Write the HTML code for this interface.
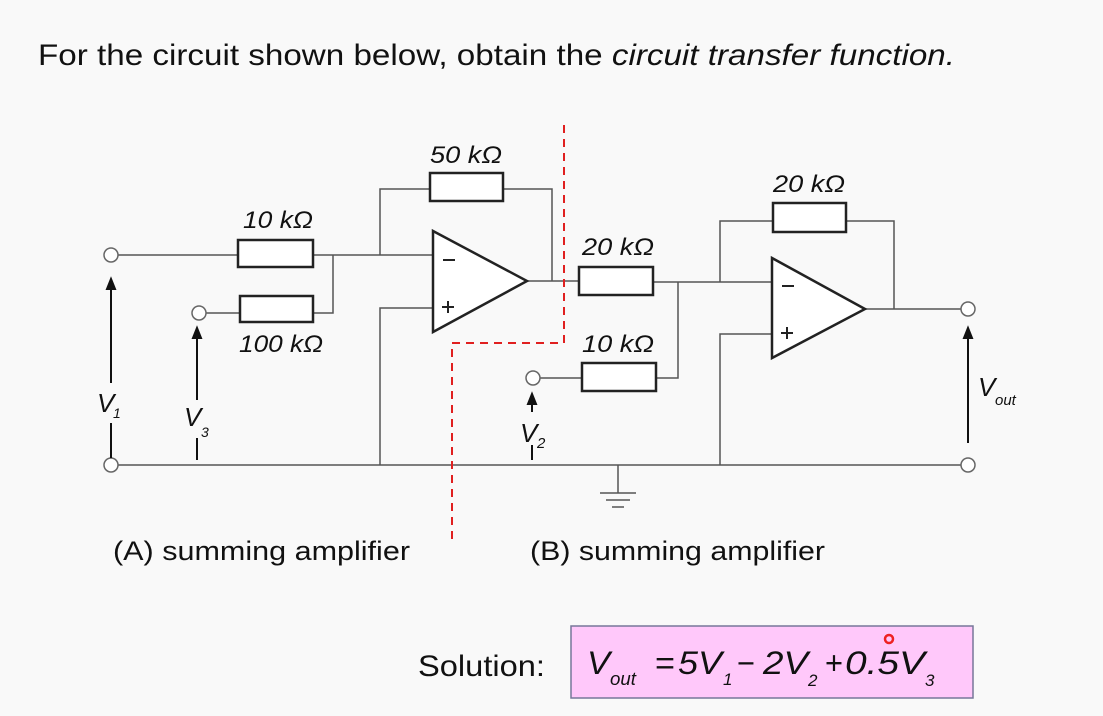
<!DOCTYPE html>
<html><head><meta charset="utf-8"><style>
html,body{margin:0;padding:0;background:#f9f9f9;}
svg{display:block;}
text{font-family:"Liberation Sans",Arial,sans-serif;fill:#111;}
</style></head><body>
<svg width="1103" height="716" viewBox="0 0 1103 716" xmlns="http://www.w3.org/2000/svg">
<rect width="1103" height="716" fill="#f9f9f9"/>
<text x="38" y="65" font-size="30" textLength="917" lengthAdjust="spacingAndGlyphs">For the circuit shown below, obtain the <tspan font-style="italic">circuit transfer function.</tspan></text>

<g stroke="#555" stroke-width="1.5" fill="none">
<line x1="118" y1="255" x2="238" y2="255"/>
<line x1="313" y1="255" x2="433" y2="255"/>
<polyline points="206,313 240,313"/>
<polyline points="313,313 333,313 333,255"/>
<polyline points="380,255 380,189 430,189"/>
<polyline points="503,189 552,189 552,281"/>
<line x1="527" y1="281" x2="579" y2="281"/>
<polyline points="433,308 380,308 380,465"/>
<line x1="118" y1="465" x2="961" y2="465"/>
<line x1="653" y1="282" x2="772" y2="282"/>
<polyline points="540,378 582,378"/>
<polyline points="656,378 678,378 678,282"/>
<polyline points="720,282 720,221 773,221"/>
<polyline points="846,221 894,221 894,309"/>
<line x1="865" y1="309" x2="961" y2="309"/>
<polyline points="772,334 720,334 720,465"/>
<line x1="618" y1="465" x2="618" y2="493"/>
<line x1="600" y1="493" x2="636" y2="493"/>
<line x1="606" y1="500" x2="630" y2="500"/>
<line x1="612" y1="507" x2="624" y2="507"/>
</g>

<g stroke="#222" stroke-width="2.5" fill="#fff">
<rect x="238" y="240" width="75" height="27"/>
<rect x="240" y="296" width="73" height="26"/>
<rect x="430" y="173" width="73" height="28"/>
<rect x="579" y="267" width="74" height="28"/>
<rect x="582" y="363" width="74" height="28"/>
<rect x="773" y="203" width="73" height="29"/>
<polygon points="433,231 527,281 433,332"/>
<polygon points="772,258 865,309 772,358"/>
</g>
<g stroke="#222" stroke-width="2">
<line x1="443" y1="260" x2="455" y2="260"/>
<line x1="442" y1="307" x2="454" y2="307"/><line x1="448" y1="301" x2="448" y2="313"/>
<line x1="782" y1="286" x2="794" y2="286"/>
<line x1="781" y1="333" x2="793" y2="333"/><line x1="787" y1="327" x2="787" y2="339"/>
</g>

<g stroke="#666" stroke-width="1.5" fill="#fff">
<circle cx="111" cy="255" r="7"/>
<circle cx="111" cy="465" r="7"/>
<circle cx="199" cy="313" r="7"/>
<circle cx="533" cy="378" r="7"/>
<circle cx="968" cy="309" r="7"/>
<circle cx="968" cy="465" r="7"/>
</g>

<g stroke="#111" stroke-width="2" fill="#111">
<line x1="111" y1="287" x2="111" y2="383"/><polygon points="107,289 115,289 111,279"/>
<line x1="111" y1="423" x2="111" y2="458"/>
<line x1="197" y1="336" x2="197" y2="400"/><polygon points="193,338 201,338 197,328"/>
<line x1="197" y1="438" x2="197" y2="460"/>
<line x1="532" y1="402" x2="532" y2="412"/><polygon points="528,404 536,404 532,394"/>
<line x1="532" y1="445" x2="532" y2="460"/>
<line x1="968" y1="336" x2="968" y2="443"/><polygon points="964,338 972,338 968,328"/>
</g>

<polyline points="564,125 564,343 452,343 452,545" fill="none" stroke="#e02020" stroke-width="2" stroke-dasharray="8,6"/>

<g font-style="italic" font-size="24">
<text x="243" y="228" textLength="70" lengthAdjust="spacingAndGlyphs">10 kΩ</text>
<text x="239" y="352" textLength="84" lengthAdjust="spacingAndGlyphs">100 kΩ</text>
<text x="430" y="163" textLength="72" lengthAdjust="spacingAndGlyphs">50 kΩ</text>
<text x="582" y="255" textLength="72" lengthAdjust="spacingAndGlyphs">20 kΩ</text>
<text x="582" y="352" textLength="72" lengthAdjust="spacingAndGlyphs">10 kΩ</text>
<text x="773" y="192" textLength="72" lengthAdjust="spacingAndGlyphs">20 kΩ</text>
</g>
<g font-style="italic">
<text x="97" y="412" font-size="26">V</text><text x="113" y="418" font-size="14">1</text>
<text x="184" y="426" font-size="26">V</text><text x="201" y="437" font-size="14">3</text>
<text x="520" y="442" font-size="26">V</text><text x="537" y="448" font-size="15">2</text>
<text x="978" y="396" font-size="26">V</text><text x="995" y="405" font-size="15">out</text>
</g>
<text x="113" y="560" font-size="27" textLength="297" lengthAdjust="spacingAndGlyphs">(A) summing amplifier</text>
<text x="530" y="560" font-size="27" textLength="295" lengthAdjust="spacingAndGlyphs">(B) summing amplifier</text>

<text x="418" y="676" font-size="30" textLength="127" lengthAdjust="spacingAndGlyphs">Solution:</text>
<rect x="571" y="626" width="402" height="72" fill="#ffc8fa" stroke="#777799" stroke-width="1.5"/>
<g font-style="italic" font-size="32">
<text x="587" y="674" textLength="23" lengthAdjust="spacingAndGlyphs">V</text>
<text x="610" y="685" font-size="18" textLength="26" lengthAdjust="spacingAndGlyphs">out</text>
<text x="655" y="674" font-style="normal" textLength="20" lengthAdjust="spacingAndGlyphs">=</text>
<text x="678" y="674" textLength="44" lengthAdjust="spacingAndGlyphs">5V</text>
<text x="723" y="685" font-size="17">1</text>
<text x="737" y="674" font-style="normal" textLength="18" lengthAdjust="spacingAndGlyphs">−</text>
<text x="763" y="674" textLength="45" lengthAdjust="spacingAndGlyphs">2V</text>
<text x="808" y="686" font-size="17">2</text>
<text x="825" y="674" font-style="normal" textLength="18" lengthAdjust="spacingAndGlyphs">+</text>
<text x="845" y="674" textLength="80" lengthAdjust="spacingAndGlyphs">0.5V</text>
<text x="925" y="686" font-size="17">3</text>
</g>
<circle cx="889" cy="639" r="4" fill="none" stroke="#ee2222" stroke-width="2.5"/>
</svg>
</body></html>
